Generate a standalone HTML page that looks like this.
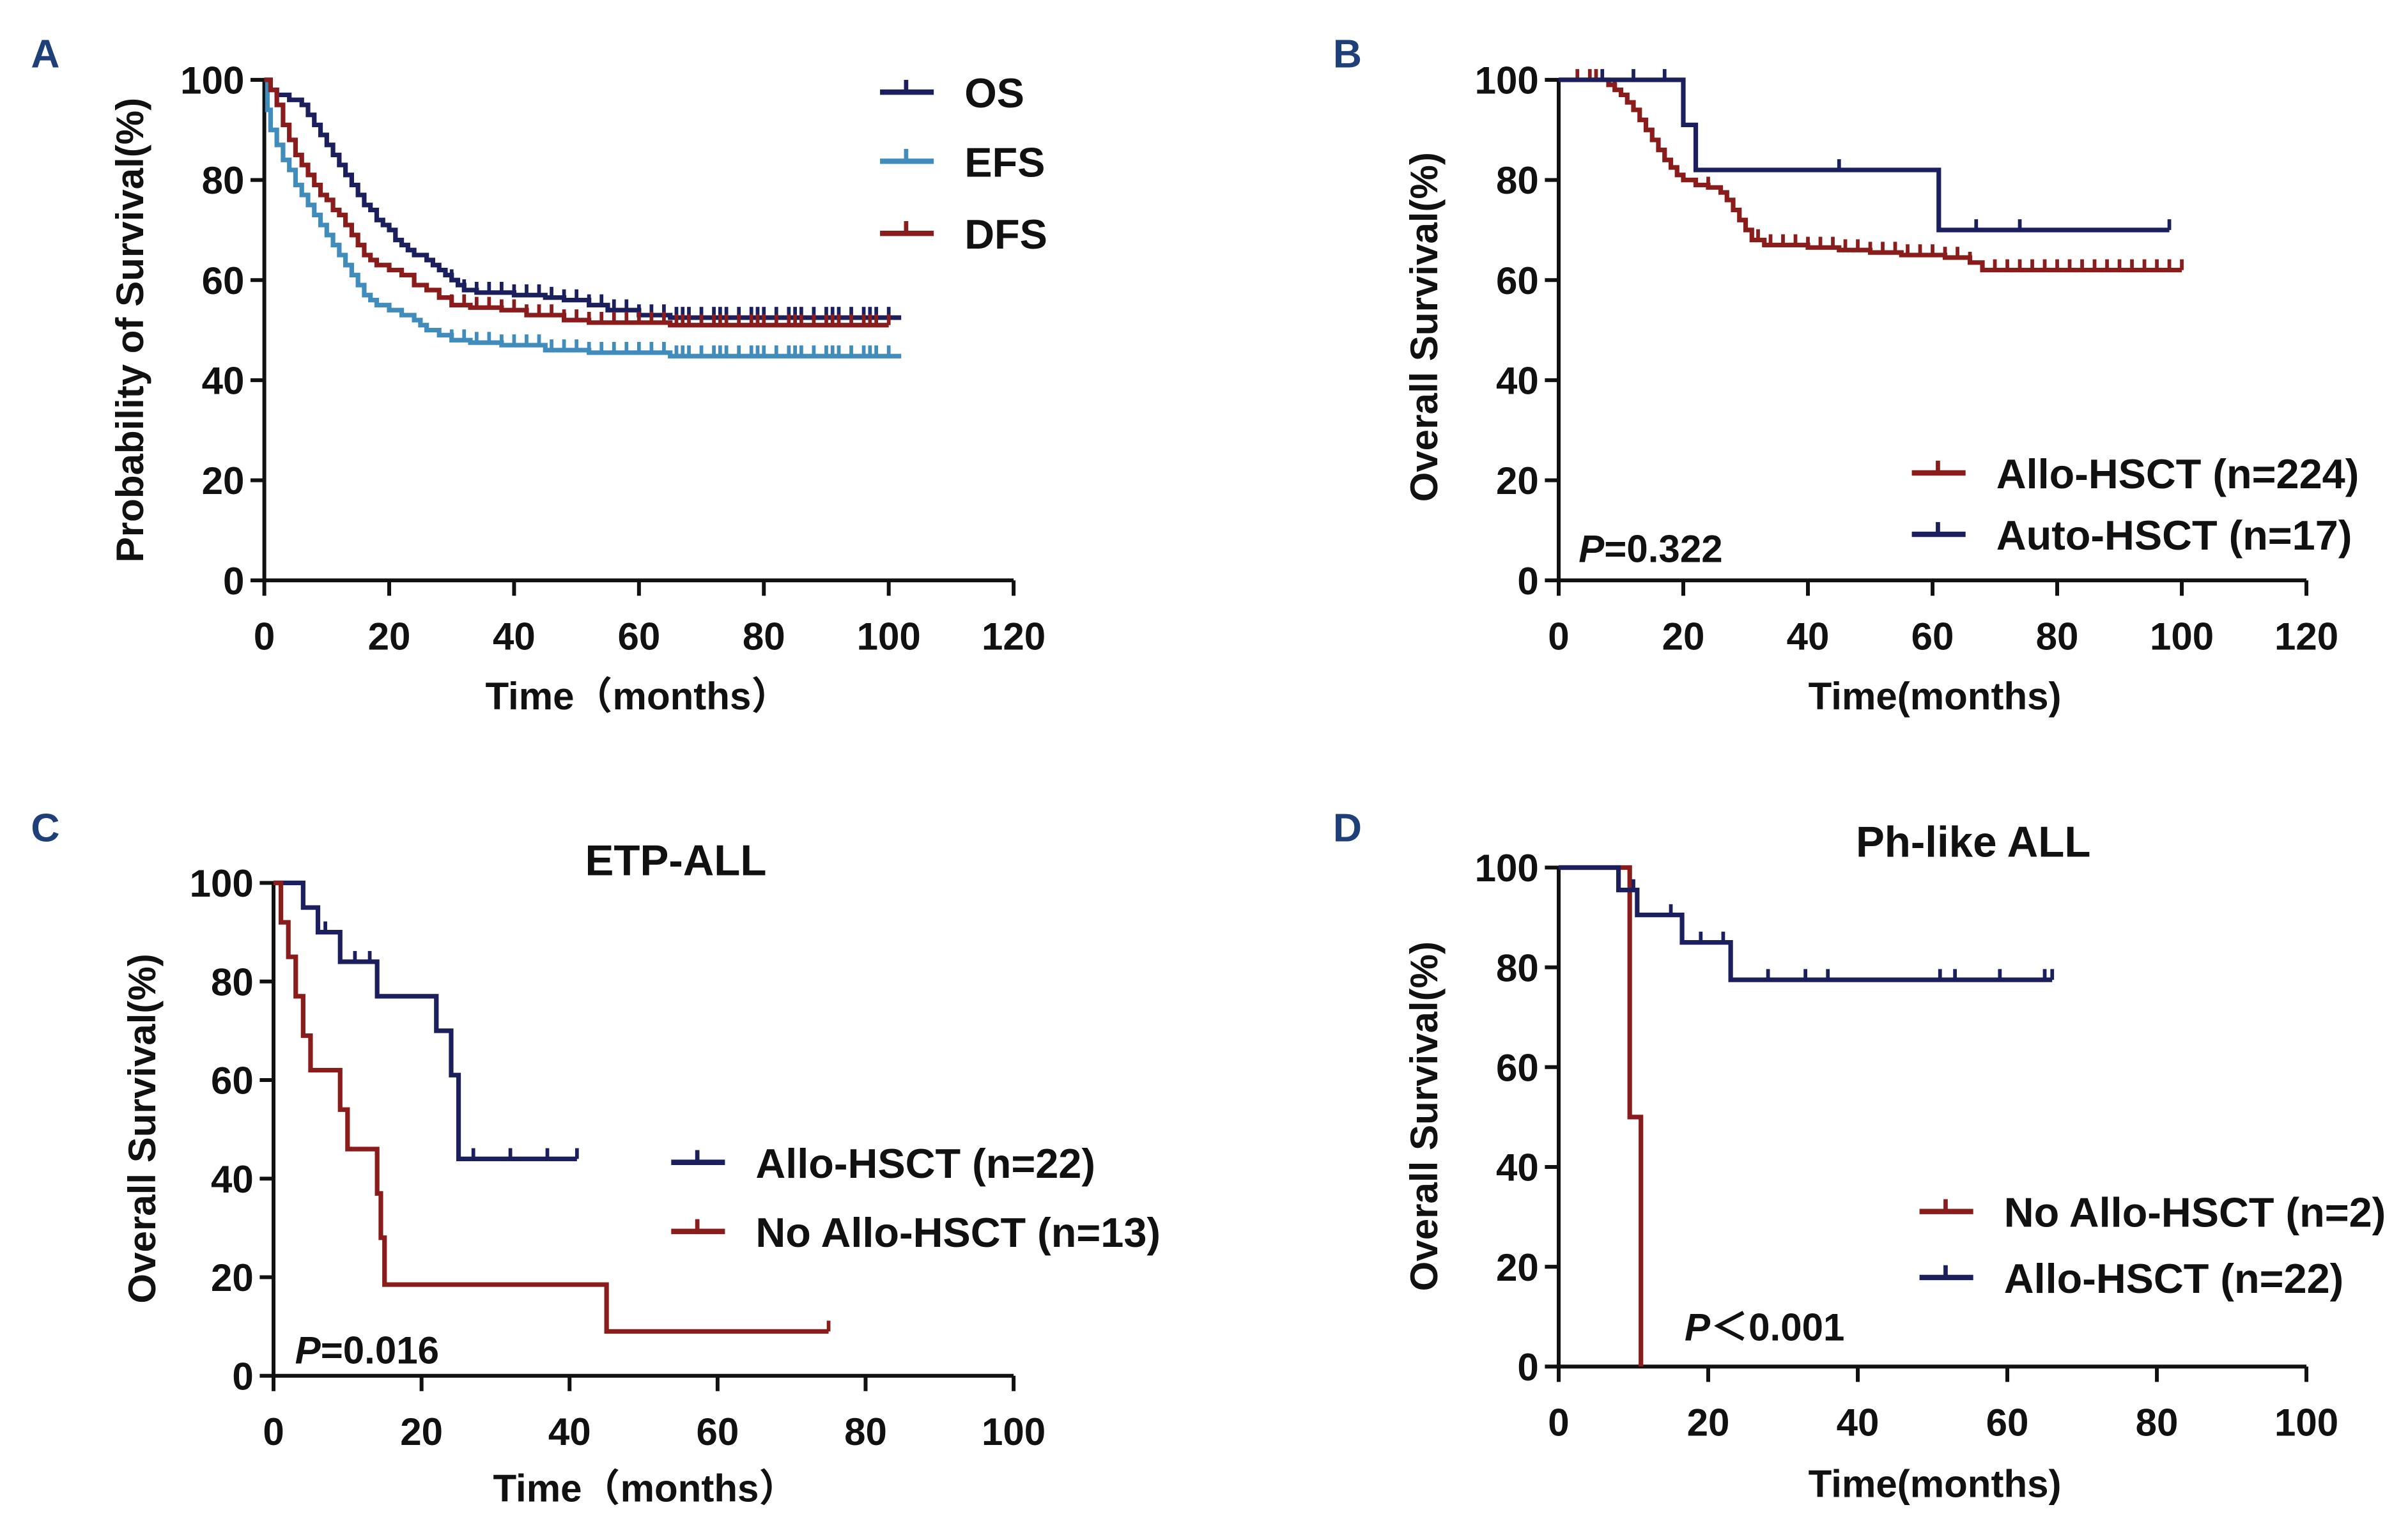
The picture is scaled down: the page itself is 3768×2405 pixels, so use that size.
<!DOCTYPE html>
<html><head><meta charset="utf-8"><style>
html,body{margin:0;padding:0;background:#fff}
svg{display:block}
text{font-family:"Liberation Sans","Noto Sans CJK SC",sans-serif;font-weight:bold;fill:#111}
</style></head><body>
<svg id="fig" width="3768" height="2405" viewBox="0 0 1568 1001" xmlns="http://www.w3.org/2000/svg">
<g id="root"></g>
</svg>
<script>
// ---- data ----
const osT=[0,1,2,4,6,7,8,9,10,11,12,13,14,15,16,17,18,19,20,21,22,23,24,26,27,28,29,30,31,32,34,40,45,48,52,55,60,65,102];
const osS=[100,98,97,96,95,93,91,89,87,85,83,81,79,77,75,74,72,71,70,68,67,66,65,64,63,62,61,60,59,58,57.5,57,56.5,56,55,54,53,52.5,52.5];
const efsT=[0,0.5,1,2,3,4,5,6,7,8,9,10,11,12,13,14,15,16,17,18,20,22,24,25,26,28,30,33,38,45,52,65,102];
const efsS=[100,94,90,87,84,82,79,77,75,73,71,69,67,65,63,61,59,57,56,55,54,53,52,51,50,49,48,47.5,47,46,45.5,44.8,44.8];
const dfsT=[0,1,2,3,4,5,6,7,8,9,10,11,12,13,14,15,16,17,18,20,22,24,26,28,30,33,38,42,48,52,65,100];
const dfsS=[100,98,95,91,88,85,83,81,79,77,76,74,73,71,69,67,65,64,63,62,61,59,58,56.5,55,54.5,54,53,52,51.5,51,51];
const aCens=[30,32,34,36,38,40,42,44,46,48,50,52,54,56,58,60,62,64,66,67,68,70,72,73,74,76,78,79,80,82,84,85,86,88,90,91,92,94,96,97,98,100];
const bAlloT=[0,7,8,9,10,11,12,13,14,15,16,17,18,19,20,22,24,26,27,28,29,30,31,33,40,45,50,55,62,66,68,100];
const bAlloS=[100,100,99,98,97,95.5,94,92,90,88,86,84,82.5,81,80,79,78.5,77.5,76,74,72,70,68,67,66.5,66,65.5,65,64.5,63.5,62,62];
const bAutoT=[0,20,22,61,98];
const bAutoS=[100,91,82,70,70];
const bAlloCens=[3,5,6,9,24,30,32,34,36,38,40,42,44,46,48,50,52,54,56,58,60,62,64,66,70,72,74,76,78,80,82,84,86,88,90,92,94,96,98,100];
const bAutoCens=[7,12,17,45,67,74,98];
const cAlloT=[0,4,6,9,14,22,24,25,41];
const cAlloS=[100,95,90,84,77,70,61,44,44];
const cNoT=[0,1,2,3,4,5,9,10,14,14.5,15,45,75];
const cNoS=[100,92,85,77,69,62,54,46,37,28,18.5,9,9];
const cAlloCens=[7,11,13,27,32,37,41];
const cNoCens=[75];
const dAlloT=[0,8,10.5,16.5,23,66];
const dAlloS=[100,95.5,90.5,85,77.5,77.5];
const dNoT=[0,9.5,11];
const dNoS=[100,50,0];
const dAlloCens=[10,15,19,22,28,33,36,51,53,59,65,66];
const C_NAVY="#1b1f5e",C_BLUE="#3f8cbd",C_RED="#8b1c1c";

const NS="http://www.w3.org/2000/svg";
const root=document.getElementById('root');
function el(tag,attrs,parent,txt){const e=document.createElementNS(NS,tag);for(const k in attrs)e.setAttribute(k,attrs[k]);if(txt!==undefined)e.textContent=txt;(parent||root).appendChild(e);return e;}

function panel(p){
  const g=el('g',{});
  
  
  const sx=v=>p.x0+(v-0)*(p.x1-p.x0)/p.xmax;
  const sy=v=>p.y0-(v/100)*(p.y0-p.y1);
  const ya=el('line',{x1:p.x0,y1:p.y1,x2:p.x0,y2:p.y0,stroke:'#111','stroke-width':2.5},g);
  
  const xa=el('line',{x1:p.x0,y1:p.y0,x2:p.x1,y2:p.y0,stroke:'#111','stroke-width':2.5},g);
  
  for(let v=0;v<=100;v+=20){
    el('line',{x1:p.x0-9,y1:sy(v),x2:p.x0,y2:sy(v),stroke:'#111','stroke-width':2.5},g);
    const t=el('text',{x:p.x0-13,y:sy(v)+9,'text-anchor':'end','font-size':25},g,String(v));
    
  }
  for(let v=0;v<=p.xmax;v+=20){
    el('line',{x1:sx(v),y1:p.y0,x2:sx(v),y2:p.y0+10,stroke:'#111','stroke-width':2.5},g);
    const t=el('text',{x:sx(v),y:p.y0+45,'text-anchor':'middle','font-size':25},g,String(v));
    
  }
  const yt=el('text',{x:0,y:0,'text-anchor':'middle','font-size':25,transform:`translate(${p.ytx},${p.yty}) rotate(-90)`},g,p.ytitle);
  
  const xt=el('text',{x:p.xtx,y:p.xty,'text-anchor':'middle','font-size':25},g,p.xtitle);
  
  const lt=el('text',{x:p.lx,y:p.ly,'font-size':26},g,p.letter);
  
  lt.style.fill='#1f3f78';
  if(p.title){const tt=el('text',{x:p.ttx,y:p.tty,'text-anchor':'middle','font-size':28},g,p.title);
    }
  if(p.pval){const pt=el('text',{x:p.px,y:p.py,'font-size':25},g);
    
    el('tspan',{'font-style':'italic'},pt,'P');el('tspan',{},pt,p.pval);}
  p.series.forEach(s=>{
    let d=`M${sx(s.t[0])},${sy(s.s[0])}`;
    for(let i=1;i<s.t.length;i++){d+=` H${sx(s.t[i])} V${sy(s.s[i])}`;}
    const path=el('path',{d:d,fill:'none',stroke:s.c,'stroke-width':3},g);
    
    (s.cens||[]).forEach(ct=>{
      let yv=s.s[0];for(let i=0;i<s.t.length;i++){if(s.t[i]<=ct)yv=s.s[i];}
      const tk=el('line',{x1:sx(ct),y1:sy(yv)-7,x2:sx(ct),y2:sy(yv),stroke:s.c,'stroke-width':2.4},g);
      
    });
    const lg=el('g',{},g);
    
    el('line',{x1:s.lgx,y1:s.lgy,x2:s.lgx+35,y2:s.lgy,stroke:s.c,'stroke-width':3.5},lg);
    el('line',{x1:s.lgx+17,y1:s.lgy-8,x2:s.lgx+17,y2:s.lgy,stroke:s.c,'stroke-width':2.8},lg);
    el('text',{x:s.lgx+55,y:s.lgy+10,'font-size':27},lg,s.label);
  });
}

panel({name:'panel-a',letter:'A',lx:20,ly:44,x0:172,x1:660,xmax:120,y0:378,y1:52,
  ytitle:'Probability of Survival(%)',ytx:93,yty:215,xtitle:'Time（months）',xtx:415,xty:462,
  series:[
   {name:'os',t:osT,s:osS,c:C_NAVY,cens:aCens,label:'OS',lgx:573,lgy:60},
   {name:'efs',t:efsT,s:efsS,c:C_BLUE,cens:aCens,label:'EFS',lgx:573,lgy:105},
   {name:'dfs',t:dfsT,s:dfsS,c:C_RED,cens:aCens,label:'DFS',lgx:573,lgy:152}]});
panel({name:'panel-b',letter:'B',lx:868,ly:44,x0:1015,x1:1502,xmax:120,y0:378,y1:52,
  ytitle:'Overall Survival(%)',ytx:936,yty:213,xtitle:'Time(months)',xtx:1260,xty:462,
  pval:'=0.322',px:1028,py:366,
  series:[
   {name:'allo-hsct',t:bAlloT,s:bAlloS,c:C_RED,cens:bAlloCens,label:'Allo-HSCT (n=224)',lgx:1245,lgy:308},
   {name:'auto-hsct',t:bAutoT,s:bAutoS,c:C_NAVY,cens:bAutoCens,label:'Auto-HSCT (n=17)',lgx:1245,lgy:348}]});
panel({name:'panel-c',letter:'C',lx:20,ly:548,x0:178,x1:660,xmax:100,y0:896,y1:575,
  ytitle:'Overall Survival(%)',ytx:101,yty:735,xtitle:'Time（months）',xtx:420,xty:978,
  title:'ETP-ALL',ttx:440,tty:570,pval:'=0.016',px:192,py:888,
  series:[
   {name:'allo-hsct',t:cAlloT,s:cAlloS,c:C_NAVY,cens:cAlloCens,label:'Allo-HSCT (n=22)',lgx:437,lgy:757},
   {name:'no-allo-hsct',t:cNoT,s:cNoS,c:C_RED,cens:cNoCens,label:'No Allo-HSCT (n=13)',lgx:437,lgy:802}]});
panel({name:'panel-d',letter:'D',lx:868,ly:548,x0:1015,x1:1502,xmax:100,y0:890,y1:565,
  ytitle:'Overall Survival(%)',ytx:936,yty:727,xtitle:'Time(months)',xtx:1260,xty:975,
  title:'Ph-like ALL',ttx:1285,tty:558,pval:'＜0.001',px:1097,py:873,
  series:[
   {name:'no-allo-hsct',t:dNoT,s:dNoS,c:C_RED,cens:[],label:'No Allo-HSCT (n=2)',lgx:1250,lgy:789},
   {name:'allo-hsct',t:dAlloT,s:dAlloS,c:C_NAVY,cens:dAlloCens,label:'Allo-HSCT (n=22)',lgx:1250,lgy:832}]});
</script>
</body></html>
